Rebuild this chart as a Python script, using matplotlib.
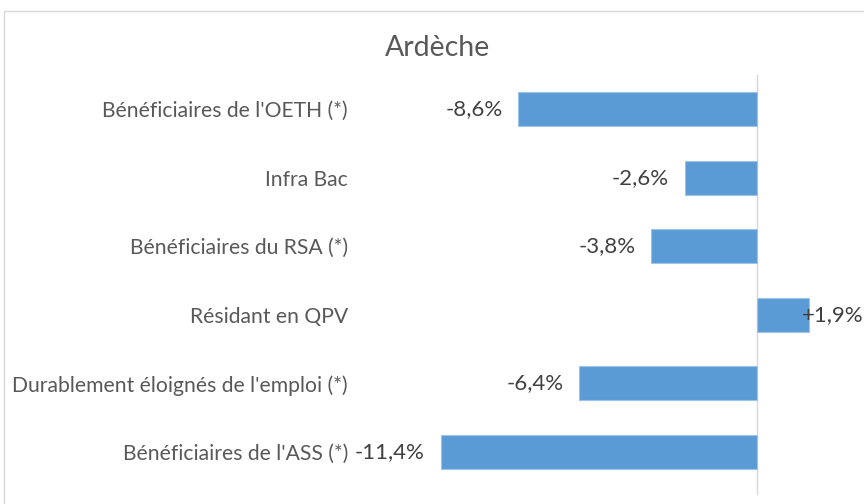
import matplotlib.pyplot as plt
from matplotlib.patches import Rectangle

categories = [
    "Bénéficiaires de l'OETH (*)",
    "Infra Bac",
    "Bénéficiaires du RSA (*)",
    "Résidant en QPV",
    "Durablement éloignés de l'emploi (*)",
    "Bénéficiaires de l'ASS (*)",
]
values = [-8.6, -2.6, -3.8, 1.9, -6.4, -11.4]
title = "Ardèche"

plt.rcParams['font.family'] = ['Lato', 'DejaVu Sans']

W, H = 864, 504
fig = plt.figure(figsize=(W / 100, H / 100), dpi=100)

# light chart border (cut off on right / bottom like the screenshot)
fig.patches.append(Rectangle((4 / W, -0.1), 1.1, 1 - 11 / H + 0.1,
                             transform=fig.transFigure, fill=False,
                             edgecolor='#D9D9D9', linewidth=1))

ax = fig.add_axes([355 / W, 1 - 486 / H, (812 - 355) / W, (486 - 75) / H])
ax.set_facecolor('none')

y = list(range(len(categories)))
ax.barh(y, values, height=0.5, color='#5B9BD5', edgecolor='#9DC3E6', linewidth=0.8, zorder=2)
ax.axvline(0, ymin=-0.02, ymax=1, color='#D9D9D9', linewidth=1, zorder=1, clip_on=False)

for yi, v in zip(y, values):
    txt = f"{v:+.1f}%".replace('.', ',')
    if v < 0:
        ax.annotate(txt, (v, yi), xytext=(-11.5, 0), textcoords='offset points',
                    ha='right', va='center', fontsize=16, color='#404040')
    else:
        ax.annotate(txt, (v, yi), xytext=(-5, 0), textcoords='offset points',
                    ha='left', va='center', fontsize=16, color='#404040')

ax.set_xlim(-14.5, 2)
ax.set_ylim(len(categories) - 0.5, -0.5)
ax.set_xticks([])
ax.set_yticks(y, categories)
ax.tick_params(axis='y', length=0, pad=5, labelsize=15.2, labelcolor='#595959')
for s in ax.spines.values():
    s.set_visible(False)

fig.text(438 / W, 1 - 48 / H, title, ha='center', va='center', fontsize=20.5, color='#595959')

fig.savefig('out.png', dpi=100)
